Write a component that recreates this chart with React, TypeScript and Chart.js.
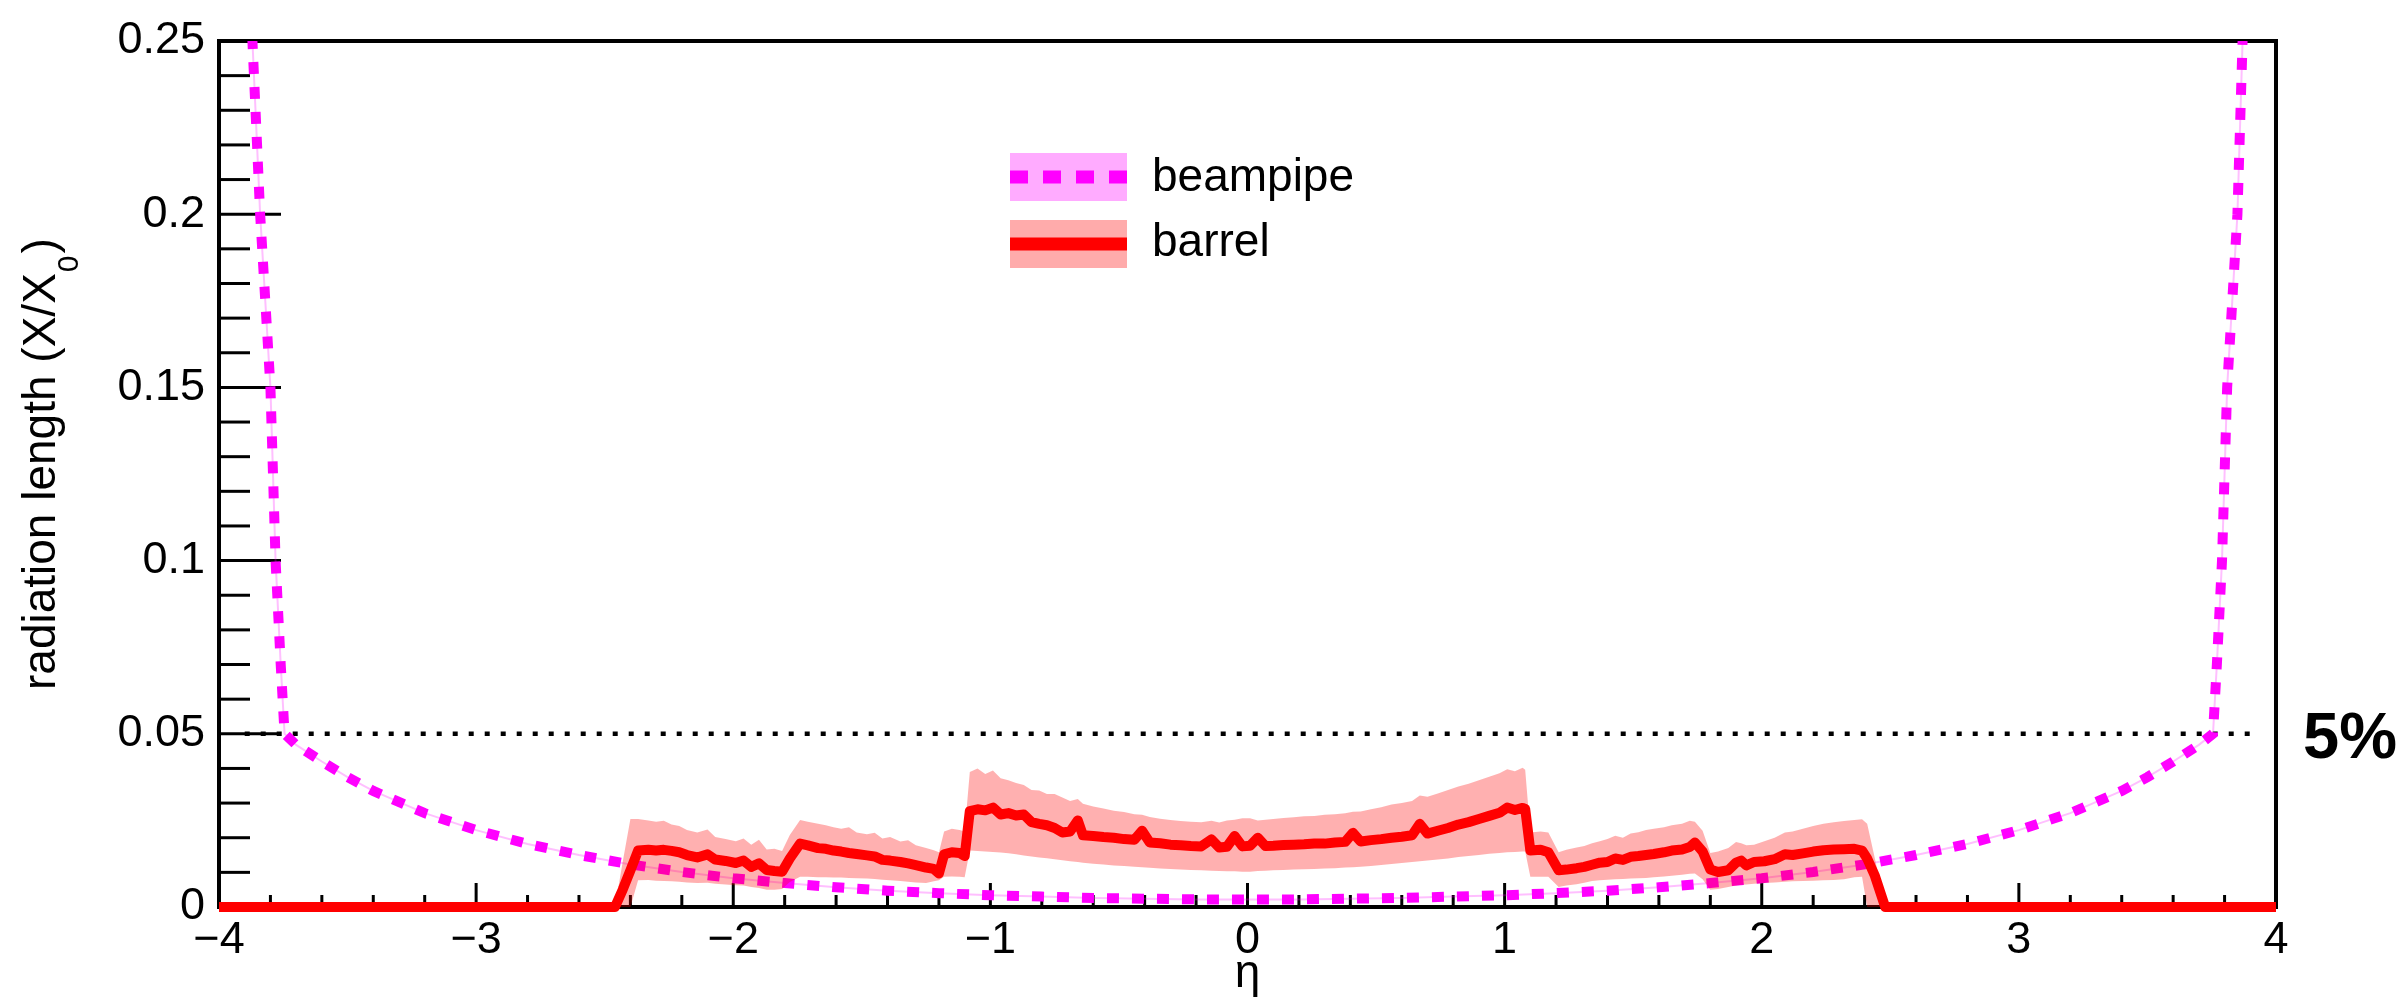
import React, { useEffect, useRef } from "react";
import { Chart, registerables } from "chart.js";

Chart.register(...registerables);

// ---------- data ----------
const beampipeEta = [
  -3.89, -3.87, -3.84, -3.8, -3.78, -3.76, -3.745, -3.7, -3.6, -3.5, -3.4, -3.2, -3.0, -2.8, -2.6, -2.4, -2.2, -2.0,
  -1.8, -1.6, -1.4, -1.2, -1.0, -0.8, -0.6, -0.4, -0.2, 0, 0.2, 0.4, 0.6, 0.8, 1.0, 1.2, 1.4, 1.6, 1.8, 2.0, 2.2,
  2.4, 2.6, 2.8, 3.0, 3.2, 3.4, 3.5, 3.6, 3.7, 3.755, 3.77, 3.79, 3.81, 3.85, 3.87, 3.89,
];
const beampipeX0 = [
  0.28, 0.25, 0.2, 0.15, 0.1, 0.07, 0.05, 0.0468, 0.042, 0.0375, 0.0335, 0.0271, 0.0222, 0.0182, 0.015, 0.0123,
  0.0101, 0.0083, 0.0069, 0.0057, 0.0047, 0.004, 0.0034, 0.003, 0.0026, 0.0024, 0.0022, 0.0022, 0.0022, 0.0024,
  0.0026, 0.003, 0.0034, 0.004, 0.0047, 0.0057, 0.0069, 0.0083, 0.0101, 0.0123, 0.015, 0.0182, 0.0222, 0.0271,
  0.0335, 0.0375, 0.042, 0.0468, 0.05, 0.07, 0.1, 0.15, 0.2, 0.25, 0.28,
];

const barrelEta = [
  -4.0, -2.46, -2.43, -2.4, -2.37, -2.33, -2.3, -2.27, -2.24, -2.21, -2.18, -2.14, -2.1, -2.07, -2.03, -1.99, -1.96,
  -1.93, -1.9, -1.87, -1.84, -1.81, -1.78, -1.74, -1.71, -1.67, -1.64, -1.61, -1.58, -1.55, -1.52, -1.48, -1.45,
  -1.42, -1.39, -1.35, -1.32, -1.29, -1.25, -1.22, -1.2, -1.18, -1.15, -1.12, -1.1, -1.08, -1.05, -1.02, -0.99,
  -0.96, -0.93, -0.9, -0.87, -0.84, -0.81, -0.78, -0.75, -0.72, -0.69, -0.66, -0.64, -0.6, -0.56, -0.52, -0.48,
  -0.44, -0.41, -0.38, -0.34, -0.3, -0.26, -0.22, -0.18, -0.14, -0.11, -0.08, -0.05, -0.02, 0.01, 0.04, 0.07, 0.1,
  0.14, 0.18, 0.22, 0.26, 0.3, 0.34, 0.38, 0.41, 0.44, 0.48, 0.52, 0.56, 0.6, 0.64, 0.67, 0.7, 0.74, 0.78, 0.82,
  0.86, 0.9, 0.94, 0.98, 1.01, 1.04, 1.07, 1.08, 1.1, 1.14, 1.17, 1.21, 1.24, 1.28, 1.31, 1.34, 1.37, 1.4, 1.43,
  1.46, 1.49, 1.52, 1.55, 1.58, 1.62, 1.65, 1.69, 1.72, 1.74, 1.77, 1.8, 1.83, 1.87, 1.9, 1.92, 1.94, 1.97, 2.01,
  2.05, 2.09, 2.12, 2.16, 2.2, 2.24, 2.28, 2.32, 2.36, 2.39, 2.41, 2.44, 2.48, 4.0,
];
const barrelMean = [
  0, 0, 0.005, 0.0106, 0.0163, 0.0165, 0.0163, 0.0165, 0.0162, 0.0158, 0.015, 0.0143, 0.0152, 0.0137, 0.0133,
  0.0127, 0.0134, 0.0116, 0.0126, 0.0107, 0.0104, 0.0102, 0.014, 0.0183, 0.0178, 0.017, 0.0168, 0.0163, 0.016,
  0.0156, 0.0153, 0.0149, 0.0146, 0.0136, 0.0134, 0.013, 0.0126, 0.0121, 0.0114, 0.011, 0.0097, 0.0152, 0.0158,
  0.0156, 0.0147, 0.0277, 0.0282, 0.0279, 0.0287, 0.0267, 0.0271, 0.0264, 0.0267, 0.0245, 0.024, 0.0236, 0.0228,
  0.0215, 0.0218, 0.025, 0.0207, 0.0205, 0.0202, 0.02, 0.0196, 0.0194, 0.022, 0.0186, 0.0184, 0.018, 0.0178,
  0.0176, 0.0175, 0.0195, 0.0172, 0.0174, 0.0205, 0.0175, 0.0177, 0.02, 0.0176, 0.0177, 0.0179, 0.018, 0.0181,
  0.0183, 0.0183, 0.0186, 0.0188, 0.0214, 0.0189, 0.0193, 0.0196, 0.02, 0.0203, 0.0207, 0.024, 0.0212, 0.022,
  0.0228, 0.0238, 0.0245, 0.0254, 0.0263, 0.0272, 0.0287, 0.028, 0.0286, 0.0283, 0.0163, 0.0165, 0.0158, 0.0106,
  0.0108, 0.0112, 0.0116, 0.0122, 0.0128, 0.013, 0.014, 0.0136, 0.0145, 0.0147, 0.015, 0.0153, 0.0158, 0.0163,
  0.0166, 0.0173, 0.0186, 0.016, 0.0108, 0.0101, 0.0106, 0.0128, 0.0134, 0.012, 0.013, 0.0132, 0.0138, 0.0152,
  0.015, 0.0155, 0.016, 0.0164, 0.0166, 0.0167, 0.0168, 0.0163, 0.014, 0.009, 0, 0,
];
const barrelHigh = [
  0, 0, 0.013, 0.0254, 0.0254, 0.025, 0.0246, 0.0249, 0.0238, 0.0234, 0.0222, 0.0215, 0.0224, 0.0202, 0.0196,
  0.019, 0.0198, 0.018, 0.0194, 0.0166, 0.0168, 0.0162, 0.0208, 0.0251, 0.0246, 0.024, 0.0236, 0.023, 0.0226,
  0.023, 0.0215, 0.021, 0.0214, 0.0198, 0.0202, 0.0189, 0.0193, 0.0178, 0.017, 0.0164, 0.0158, 0.0218, 0.0226,
  0.0222, 0.0218, 0.039, 0.04, 0.0384, 0.0394, 0.0372, 0.0366, 0.0358, 0.0352, 0.0338, 0.0336, 0.0326, 0.0326,
  0.0316, 0.0306, 0.0312, 0.0298, 0.029, 0.0284, 0.0278, 0.0274, 0.0268, 0.0266, 0.026, 0.0255, 0.0251, 0.0248,
  0.0246, 0.0245, 0.0249, 0.0244, 0.025, 0.0252, 0.0256, 0.0256, 0.025, 0.0252, 0.0254, 0.0257, 0.0259, 0.0262,
  0.0263, 0.0266, 0.0268, 0.0271, 0.0275, 0.0276, 0.0282, 0.0288, 0.0296, 0.03, 0.0306, 0.0322, 0.0318, 0.0328,
  0.0338, 0.0348, 0.0356, 0.0366, 0.0376, 0.0386, 0.0398, 0.0392, 0.0402, 0.0396, 0.0215, 0.0218, 0.0215, 0.0158,
  0.0165, 0.0172, 0.0176, 0.0184, 0.019, 0.0196, 0.0206, 0.02, 0.0212, 0.0216, 0.0222, 0.0226, 0.023, 0.0236,
  0.024, 0.0249, 0.0246, 0.022, 0.0156, 0.016, 0.017, 0.0188, 0.0184, 0.0178, 0.018, 0.019, 0.02, 0.0215, 0.0218,
  0.0226, 0.0234, 0.024, 0.0245, 0.0248, 0.0251, 0.0253, 0.024, 0.014, 0, 0,
];
const barrelLow = [
  0, 0, 0, 0, 0.0077, 0.0078, 0.0076, 0.0075, 0.0074, 0.0073, 0.0071, 0.0069, 0.007, 0.0067, 0.0065, 0.0063,
  0.0062, 0.0058, 0.0055, 0.005, 0.005, 0.0052, 0.0072, 0.0087, 0.0087, 0.0086, 0.0086, 0.0085, 0.0085, 0.0084,
  0.0083, 0.0082, 0.0081, 0.0079, 0.0077, 0.0075, 0.0073, 0.0071, 0.0069, 0.0074, 0.0077, 0.0087, 0.0088, 0.0087,
  0.0086, 0.0163, 0.0162, 0.016, 0.0159, 0.0157, 0.0155, 0.0152, 0.0149, 0.0146, 0.0143, 0.0141, 0.0138, 0.0135,
  0.0132, 0.013, 0.0128, 0.0125, 0.0123, 0.012, 0.0118, 0.0116, 0.0115, 0.0113, 0.0111, 0.011, 0.0108, 0.0107,
  0.0106, 0.0105, 0.0104, 0.0103, 0.0103, 0.0102, 0.0102, 0.0104, 0.0105, 0.0106, 0.0107, 0.0108, 0.0109, 0.011,
  0.0111, 0.0112, 0.0114, 0.0115, 0.0116, 0.0118, 0.0121, 0.0124, 0.0127, 0.013, 0.0132, 0.0134, 0.0137, 0.014,
  0.0144, 0.0147, 0.015, 0.0154, 0.0156, 0.0158, 0.0159, 0.016, 0.016, 0.0087, 0.0087, 0.0087, 0.0058, 0.0062,
  0.0066, 0.007, 0.0075, 0.0077, 0.0079, 0.008, 0.0081, 0.0082, 0.0083, 0.0084, 0.0086, 0.0088, 0.009, 0.0093,
  0.0096, 0.0097, 0.008, 0.005, 0.0052, 0.0058, 0.0062, 0.0064, 0.0065, 0.0067, 0.0069, 0.0071, 0.0073, 0.0074,
  0.0075, 0.0076, 0.0077, 0.0078, 0.008, 0.0086, 0.0087, 0, 0, 0, 0,
];

const thresholdEta = [-3.9, 3.93];
const thresholdValue = [0.05, 0.05];

const xMajorTicks = [-4, -3, -2, -1, 0, 1, 2, 3, 4];
const yMajorTicks = [0, 0.05, 0.1, 0.15, 0.2, 0.25];
const legendLabels = ["beampipe", "barrel"];
const yTitle = "radiation length (X/X";
const ySubscript = "0";
const xTitle = "\u03b7";
const thresholdLabel = "5%";

const FONT = '"Liberation Sans", Arial, Helvetica, sans-serif';

const pts = (xs: number[], ys: number[]) => xs.map((x, i) => ({ x, y: ys[i] }));

const rootPlugin = {
  id: "rootDecor",
  beforeDatasetsDraw(chart: any) {
    const { ctx, chartArea: a, scales } = chart;
    const x = scales.x;
    const y = scales.y;
    ctx.save();
    ctx.strokeStyle = "#000";
    ctx.lineWidth = 3;
    ctx.lineCap = "butt";
    const seg = (x1: number, y1: number, x2: number, y2: number) => {
      ctx.beginPath();
      ctx.moveTo(x1, y1);
      ctx.lineTo(x2, y2);
      ctx.stroke();
    };
    // x ticks
    for (let i = 0; i < xMajorTicks.length; i++) {
      const v = xMajorTicks[i];
      const px = x.getPixelForValue(v);
      seg(px, a.bottom, px, a.bottom - 24);
      if (i < xMajorTicks.length - 1) {
        for (let k = 1; k < 5; k++) {
          const pm = x.getPixelForValue(v + k * 0.2);
          seg(pm, a.bottom, pm, a.bottom - 12);
        }
      }
    }
    // y ticks
    for (let i = 0; i < yMajorTicks.length; i++) {
      const v = yMajorTicks[i];
      const py = y.getPixelForValue(v);
      seg(a.left, py, a.left + 62, py);
      if (i < yMajorTicks.length - 1) {
        for (let k = 1; k < 5; k++) {
          const pm = y.getPixelForValue(v + k * 0.01);
          seg(a.left, pm, a.left + 31, pm);
        }
      }
    }
    // frame
    ctx.lineWidth = 4;
    ctx.strokeRect(a.left, a.top, a.right - a.left, a.bottom - a.top);
    ctx.restore();
  },
  afterDraw(chart: any) {
    const { ctx, chartArea: a, scales } = chart;
    ctx.save();
    ctx.fillStyle = "#000";
    // y title with subscript
    ctx.translate(55, 690);
    ctx.rotate(-Math.PI / 2);
    ctx.font = `46px ${FONT}`;
    ctx.textBaseline = "alphabetic";
    ctx.textAlign = "left";
    ctx.fillText(yTitle, 0, 0);
    const w = ctx.measureText(yTitle).width;
    ctx.font = `30px ${FONT}`;
    ctx.fillText(ySubscript, w + 1, 23);
    const ws = ctx.measureText(ySubscript).width;
    ctx.font = `46px ${FONT}`;
    ctx.fillText(")", w + ws + 3, 0);
    ctx.restore();

    ctx.save();
    // x title
    ctx.fillStyle = "#000";
    ctx.font = `46px ${FONT}`;
    ctx.textAlign = "center";
    ctx.textBaseline = "alphabetic";
    ctx.fillText(xTitle, scales.x.getPixelForValue(0), 987);
    // 5% label
    ctx.font = `bold 65px ${FONT}`;
    ctx.textAlign = "left";
    ctx.fillText(thresholdLabel, a.right + 27, 758);

    // legend
    const bx = 1010;
    const bw = 117;
    const bh = 48;
    const rows = [177, 244];
    // beampipe
    ctx.fillStyle = "rgba(255,0,255,0.33)";
    ctx.fillRect(bx, rows[0] - bh / 2, bw, bh);
    ctx.strokeStyle = "#ff00ff";
    ctx.lineWidth = 13;
    ctx.setLineDash([18, 15]);
    ctx.beginPath();
    ctx.moveTo(bx, rows[0]);
    ctx.lineTo(bx + bw, rows[0]);
    ctx.stroke();
    ctx.setLineDash([]);
    // barrel
    ctx.fillStyle = "rgba(255,0,0,0.33)";
    ctx.fillRect(bx, rows[1] - bh / 2, bw, bh);
    ctx.strokeStyle = "#ff0000";
    ctx.lineWidth = 13;
    ctx.beginPath();
    ctx.moveTo(bx, rows[1]);
    ctx.lineTo(bx + bw, rows[1]);
    ctx.stroke();
    ctx.fillStyle = "#000";
    ctx.font = `46px ${FONT}`;
    ctx.textBaseline = "alphabetic";
    ctx.fillText(legendLabels[0], 1152, 191);
    ctx.fillText(legendLabels[1], 1152, 256);
    ctx.restore();
  },
};

export default function App() {
  const ref = useRef<HTMLCanvasElement | null>(null);
  useEffect(() => {
    document.body.style.margin = "0";
    document.body.style.overflow = "hidden";
    const canvas = ref.current;
    if (!canvas) return;
    const chart = new Chart(canvas, {
      type: "line",
      data: {
        datasets: [
          {
            label: "barrel",
            data: pts(barrelEta, barrelMean),
            borderColor: "#ff0000",
            borderWidth: 10,
            borderJoinStyle: "round",
            pointRadius: 0,
            fill: false,
            order: 0,
            clip: false,
          } as any,
          {
            label: "barrel high",
            data: pts(barrelEta, barrelHigh),
            borderColor: "rgba(0,0,0,0)",
            borderWidth: 0,
            backgroundColor: "rgba(255,0,0,0.31)",
            fill: "+1",
            pointRadius: 0,
            order: 1,
          },
          {
            label: "barrel low",
            data: pts(barrelEta, barrelLow),
            borderColor: "rgba(0,0,0,0)",
            borderWidth: 0,
            fill: false,
            pointRadius: 0,
            order: 2,
          },
          {
            label: "beampipe",
            data: pts(beampipeEta, beampipeX0),
            borderColor: "#ff00ff",
            borderWidth: 10,
            borderDash: [12, 13],
            borderCapStyle: "butt",
            pointRadius: 0,
            fill: false,
            order: 3,
            clip: 0,
          } as any,
          {
            label: "beampipe band",
            data: pts(beampipeEta, beampipeX0),
            borderColor: "rgba(255,0,255,0.25)",
            borderWidth: 2,
            pointRadius: 0,
            fill: false,
            order: 4,
            clip: 0,
          } as any,
          {
            label: "5%",
            data: pts(thresholdEta, thresholdValue),
            borderColor: "#000",
            borderWidth: 4.5,
            borderDash: [5, 11],
            pointRadius: 0,
            fill: false,
            order: 5,
          },
        ],
      },
      options: {
        animation: false,
        responsive: false,
        devicePixelRatio: 1,
        layout: { padding: { top: 32, right: 128, left: 0, bottom: 0 } },
        plugins: {
          legend: { display: false },
          tooltip: { enabled: false },
        },
        scales: {
          x: {
            type: "linear",
            min: -4,
            max: 4,
            grid: { display: false, drawTicks: false },
            border: { display: false },
            ticks: {
              stepSize: 1,
              padding: 7,
              color: "#000",
              maxRotation: 0,
              autoSkip: false,
              font: { size: 45, family: FONT },
              callback: (v: any) => String(v).replace("-", "\u2212"),
            },
            afterFit: (s: any) => {
              s.height = 90;
            },
          },
          y: {
            type: "linear",
            min: 0,
            max: 0.25,
            grid: { display: false, drawTicks: false },
            border: { display: false },
            ticks: {
              stepSize: 0.05,
              padding: 14,
              color: "#000",
              autoSkip: false,
              font: { size: 45, family: FONT },
              callback: (v: any) => String(Math.round(Number(v) * 100) / 100),
            },
            afterFit: (s: any) => {
              s.width = 219;
            },
          },
        },
      } as any,
      plugins: [rootPlugin],
    });
    return () => chart.destroy();
  }, []);
  return (
    <div style={{ width: 2404, height: 997 }}>
      <canvas ref={ref} width={2404} height={997} style={{ display: "block" }} />
    </div>
  );
}
